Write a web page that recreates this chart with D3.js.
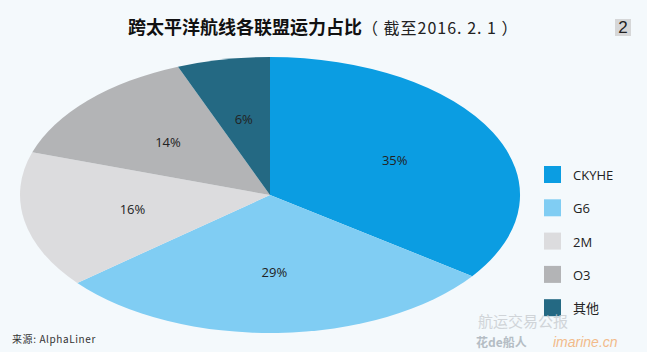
<!DOCTYPE html>
<html>
<head>
<meta charset="utf-8">
<script src="https://cdn.jsdelivr.net/npm/d3@7"></script>
<style>
  body { margin: 0; background: #f4f9fc; }
  svg { display: block; }
</style>
</head>
<body>
<script>
// données
const alliances = ['CKYHE', 'G6', '2M', 'O3', '其他'];
const shares = [35, 29, 16, 14, 6];
const colors = ['#0b9de2', '#80cdf3', '#dcdcde', '#b3b4b6', '#246983'];

const width = 647, height = 352;
const svg = d3.select('body').append('svg')
    .attr('width', width)
    .attr('height', height);

svg.append('rect').attr('width', width).attr('height', height).attr('fill', '#f4f9fc');

// titre
const title = svg.append('text')
    .attr('x', 128).attr('y', 34)
    .attr('font-family', '"Noto Sans CJK SC", sans-serif')
    .attr('font-size', 18)
    .attr('fill', '#111');
title.append('tspan').attr('font-weight', 'bold').text('跨太平洋航线各联盟运力占比');
title.append('tspan').attr('font-size', 16).attr('fill', '#222').attr('letter-spacing', 1).text('（ 截至2016. 2. 1 ）');

svg.append('rect').attr('x', 615).attr('y', 19).attr('width', 16).attr('height', 17).attr('fill', '#d6d7d8');
svg.append('text').attr('x', 623).attr('y', 33).attr('text-anchor', 'middle')
    .attr('font-family', 'Liberation Sans, Arial, sans-serif').attr('font-size', 17).attr('fill', '#222').text('2');

// camembert (ellipse : cercle étiré)
const cx = 270, cy = 195, rx = 250, ry = 138;
const pie = d3.pie().sort(null).value(d => d)(shares);
const arc = d3.arc().innerRadius(0).outerRadius(1);
const labelArc = d3.arc().innerRadius(0.56).outerRadius(0.56);

const g = svg.append('g').attr('transform', 'translate(' + cx + ',' + cy + ') scale(' + rx + ',' + ry + ')');
g.selectAll('path').data(pie).join('path')
    .attr('d', arc)
    .attr('fill', (d, i) => colors[i]);

svg.selectAll('text.pct').data(pie).join('text')
    .attr('class', 'pct')
    .attr('x', d => cx + labelArc.centroid(d)[0] * rx)
    .attr('y', d => cy + labelArc.centroid(d)[1] * ry + 5)
    .attr('text-anchor', 'middle')
    .attr('font-family', '"Open Sans", sans-serif')
    .attr('font-size', 13)
    .attr('fill', '#222')
    .text(d => d.value + '%');

// légende
const leg = svg.selectAll('g.leg').data(alliances).join('g')
    .attr('class', 'leg')
    .attr('transform', (d, i) => 'translate(544,' + (166 + i * 33.3) + ')');
leg.append('rect').attr('width', 17).attr('height', 17).attr('fill', (d, i) => colors[i]);
leg.append('text').attr('x', 29).attr('y', 14)
    .attr('font-family', '"Open Sans", "Noto Sans CJK SC", sans-serif')
    .attr('font-size', 13).attr('fill', '#222')
    .text(d => d);

// source
svg.append('text').attr('x', 12).attr('y', 343)
    .attr('font-family', '"Noto Sans CJK SC", "DejaVu Sans Mono", monospace')
    .attr('font-size', 10).attr('letter-spacing', 0.6).attr('fill', '#333')
    .text('来源: AlphaLiner');

// filigrane
svg.append('text').attr('x', 478).attr('y', 327)
    .attr('font-family', '"Noto Sans CJK SC", sans-serif').attr('font-size', 15)
    .attr('fill', '#c8ccd0').attr('opacity', 0.8).text('航运交易公报');
svg.append('text').attr('x', 476).attr('y', 347)
    .attr('font-family', '"Noto Sans CJK SC", sans-serif').attr('font-size', 12)
    .attr('font-weight', 'bold').attr('fill', '#9aa4ad').attr('opacity', 0.7).text('花de船人');
svg.append('text').attr('x', 553).attr('y', 347)
    .attr('font-family', 'Liberation Sans, sans-serif').attr('font-size', 14).attr('font-style', 'italic')
    .attr('fill', '#f2a25a').attr('opacity', 0.7).text('imarine.cn');
</script>
</body>
</html>
